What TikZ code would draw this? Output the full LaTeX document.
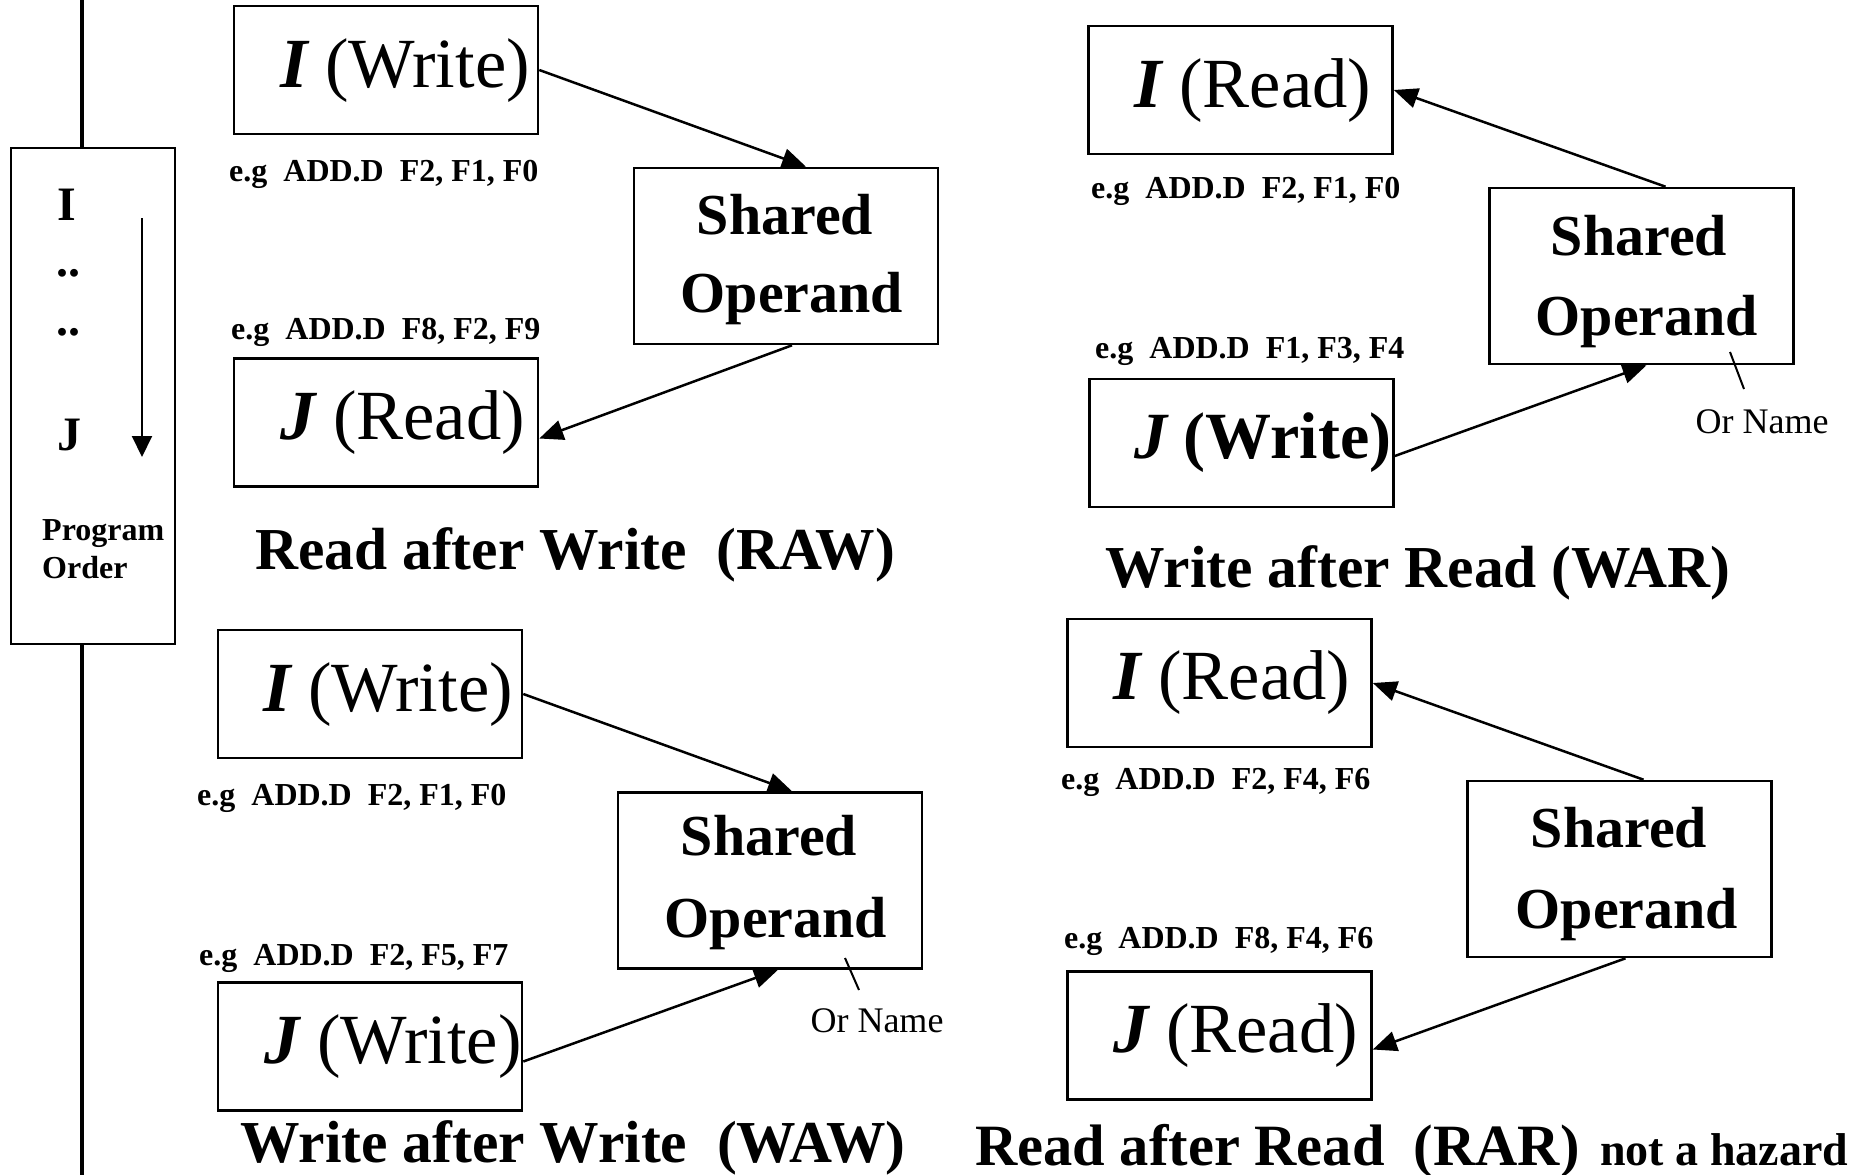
\documentclass[tikz,border=0pt]{standalone}
\usepackage{fontspec}
\setmainfont{Liberation Serif}
\usetikzlibrary{arrows.meta,calc}
\tikzset{
  box/.style={draw, line width=2.6pt, minimum width=304pt, minimum height=128pt, inner sep=0pt},
  sbox/.style={box, minimum height=176pt},
  big/.style={font=\fontsize{70.5}{80}\selectfont, inner sep=0pt, anchor=base west},
  eg/.style={font=\bfseries\fontsize{32}{36}\selectfont, inner sep=0pt, anchor=base west},
  shr/.style={font=\bfseries\fontsize{58}{70}\selectfont, inner sep=0pt, anchor=base},
  ttl/.style={font=\bfseries\fontsize{59.5}{70}\selectfont, inner sep=0pt, anchor=base west},
  orn/.style={font=\fontsize{36}{42}\selectfont, inner sep=0pt, anchor=base},
  pord/.style={font=\bfseries\fontsize{48}{56}\selectfont, inner sep=0pt, anchor=base},
  plab/.style={font=\bfseries\fontsize{32}{38}\selectfont, inner sep=0pt, anchor=base west},
  conn/.style={line width=2.5pt, -{Triangle[length=24pt,width=20pt]}},
  tick/.style={line width=2pt},
}
\newcommand{\II}{{\bfseries\itshape I}}
\newcommand{\JJ}{{\bfseries\itshape J}}
\begin{document}
\begin{tikzpicture}[x=1pt,y=-1pt]
\useasboundingbox (0,0) rectangle (1858,1175);

% Program order column
\node[draw, line width=2.6pt, minimum width=164pt, minimum height=496pt, inner sep=0pt] (prog) at (93,396) {};
\coordinate (vtop) at (82,0);
\coordinate (vbot) at (82,1175);
\draw[line width=4.5pt] (vtop) -- (vtop |- prog.north);
\draw[line width=4.5pt] (vbot |- prog.south) -- (vbot);
\node[pord] (pI) at (67,220) {I};
\node[pord] (pd1) at (68,276) {..};
\node[pord] (pd2) at (68,335) {..};
\node[pord] (pJ) at (69,450) {J};
\coordinate (pa1) at (142,218);
\coordinate (pa2) at (142,457);
\draw[line width=2pt, -{Triangle[length=21pt,width=20pt]}] (pa1) -- (pa2);
\node[plab] (pprog) at (42,540) {Program};
\node[plab] (pordr) at (42,578) {Order};

% RAW
\node[box] (rawI) at (386,70) {};
\node[big] (rawIt) at (280,87) {\II\ (Write)};
\node[eg] (rawE1) at (229,181) {e.g\ \ ADD.D\ \ F2, F1, F0};
\node[sbox] (rawS) at (786,256) {};
\node[shr] (rawS1) at (785,234) {Shared};
\node[shr] (rawS2) at (792,312) {Operand};
\node[eg] (rawE2) at (231,339) {e.g\ \ ADD.D\ \ F8, F2, F9};
\node[box] (rawJ) at (386,422.5) {};
\node[big] (rawJt) at (280,439) {\JJ\ (Read)};
\node[ttl] (rawT) at (255,569) {Read after Write\ \ (RAW)};
\draw[conn] (rawI.east) -- ($(rawS.north)+(20,0)$);
\draw[conn] ($(rawS.south)+(6,0)$) -- ($(rawJ.east)+(0,16)$);

% WAR
\node[box] (warI) at (1240.5,90) {};
\node[big] (warIt) at (1134,107) {\II\ (Read)};
\node[eg] (warE1) at (1091,198) {e.g\ \ ADD.D\ \ F2, F1, F0};
\node[sbox] (warS) at (1641.5,276) {};
\node[shr] (warS1) at (1639,255) {Shared};
\node[shr] (warS2) at (1647,335) {Operand};
\node[eg] (warE2) at (1095,358) {e.g\ \ ADD.D\ \ F1, F3, F4};
\node[box] (warJ) at (1241.5,443) {};
\node[big, font=\bfseries\fontsize{66}{76}\selectfont] (warJt) at (1134,458) {\JJ\ (Write)};
\node[ttl] (warT) at (1105,587) {Write after Read (WAR)};
\draw[conn] ($(warS.north)+(24,0)$) -- (warI.east);
\draw[conn] ($(warJ.east)+(0,13)$) -- ($(warS.south)+(5,0)$);
\coordinate (warK1) at (1730,352);
\coordinate (warK2) at (1744,389);
\draw[tick] (warK1) -- (warK2);
\node[orn] (warOr) at (1762,433) {Or Name};

% WAW
\node[box] (wawI) at (370,694) {};
\node[big] (wawIt) at (263,711) {\II\ (Write)};
\node[eg] (wawE1) at (197,805) {e.g\ \ ADD.D\ \ F2, F1, F0};
\node[sbox] (wawS) at (770,880.5) {};
\node[shr] (wawS1) at (769,855) {Shared};
\node[shr] (wawS2) at (776,937) {Operand};
\node[eg] (wawE2) at (199,965) {e.g\ \ ADD.D\ \ F2, F5, F7};
\node[box] (wawJ) at (370,1046.5) {};
\node[big] (wawJt) at (264,1063) {\JJ\ (Write)};
\node[ttl] (wawT) at (240,1162) {Write after Write\ \ (WAW)};
\draw[conn] (wawI.east) -- ($(wawS.north)+(22,0)$);
\draw[conn] ($(wawJ.east)+(0,15)$) -- ($(wawS.south)+(8,0)$);
\coordinate (wawK1) at (845,958);
\coordinate (wawK2) at (859,990);
\draw[tick] (wawK1) -- (wawK2);
\node[orn] (wawOr) at (877,1032) {Or Name};

% RAR
\node[box] (rarI) at (1219.5,683) {};
\node[big] (rarIt) at (1113,699) {\II\ (Read)};
\node[eg] (rarE1) at (1061,789) {e.g\ \ ADD.D\ \ F2, F4, F6};
\node[sbox] (rarS) at (1619.5,869) {};
\node[shr] (rarS1) at (1619,847) {Shared};
\node[shr] (rarS2) at (1627,928) {Operand};
\node[eg] (rarE2) at (1064,948) {e.g\ \ ADD.D\ \ F8, F4, F6};
\node[box] (rarJ) at (1219.5,1035.5) {};
\node[big] (rarJt) at (1113,1052) {\JJ\ (Read)};
\node[ttl, font=\bfseries\fontsize{58.5}{70}\selectfont] (rarT) at (975,1165) {Read after Read\ \ (RAR)};
\node[ttl, font=\bfseries\fontsize{46}{52}\selectfont] (rarN) at (1600,1165) {not a hazard};
\draw[conn] ($(rarS.north)+(24,0)$) -- (rarI.east);
\draw[conn] ($(rarS.south)+(6,0)$) -- ($(rarJ.east)+(0,14)$);
\end{tikzpicture}
\end{document}
